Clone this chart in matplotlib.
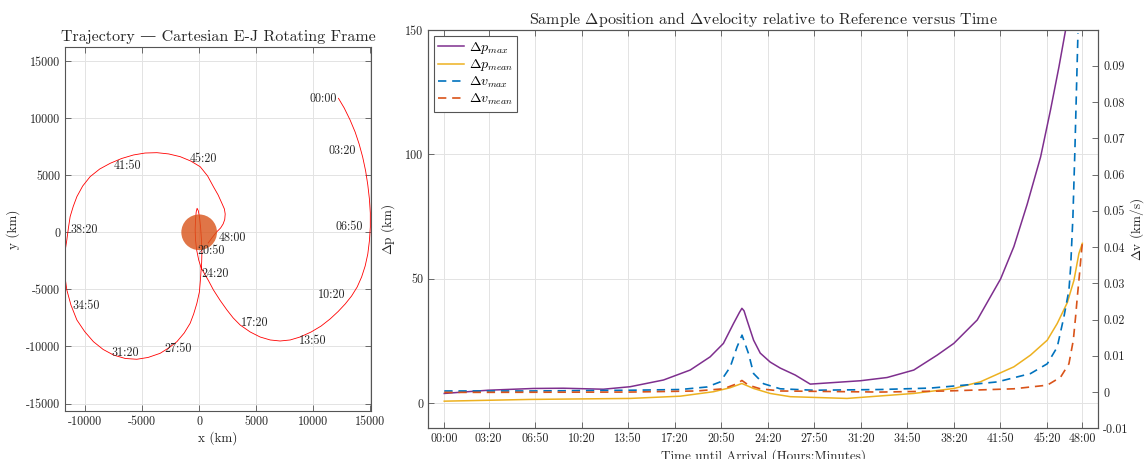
import numpy as np
import matplotlib
matplotlib.use("Agg")
import matplotlib.pyplot as plt
from matplotlib.patches import Circle

# ── data ──────────────────────────────────────────────────────────────────────
# trajectory in the Europa-Jupiter rotating frame (km)
traj_x = [12200, 12700, 13220, 13660, 14010, 14320, 14580, 14770, 14910, 14990,
          14990, 14910, 14770, 14540, 14230, 13840, 13350, 12790, 12170, 11470,
          10680, 9810, 8840, 7970, 7090, 6220, 5340, 4470, 3590, 2980,
          2430, 1840, 1250, 830, 480, 180, -40, -220, -320, -350,
          -320, -260, -180, -70, 40, 130, 200, 240, 220, 180,
          110, 20, -200, -480, -790, -1310, -1950, -2670, -3420, -4470,
          -5460, -6480, -7500, -8410, -9260, -10030, -10710, -11230, -11590, -11760,
          -11800, -11740, -11590, -11450, -11300, -11030, -10710, -10200, -9550, -8710,
          -7790, -6790, -5750, -4730, -3700, -2670, -1660, -740, 90, 740,
          1250, 1660, 1990, 2210, 2280, 2240, 2100, 1880, 1550, 1180,
          790]
traj_y = [11730, 10890, 9830, 8780, 7730, 6590, 5370, 4140, 2920, 1690,
          460, -760, -1900, -2950, -3910, -4790, -5580, -6280, -6940, -7590,
          -8210, -8730, -9170, -9430, -9520, -9430, -9170, -8730, -8120, -7500,
          -6800, -5970, -5050, -4260, -3650, -3130, -2430, -1550, -670, 200,
          1080, 1780, 2100, 1870, 1250, 380, -670, -1730, -2600, -3130,
          -4180, -5230, -6220, -7150, -7970, -8820, -9580, -10130, -10600, -10960,
          -11120, -11050, -10750, -10260, -9580, -8690, -7680, -6370, -5050, -3830,
          -2710, -1640, -670, 380, 1370, 2260, 3120, 4050, 4870, 5540,
          6040, 6460, 6770, 6940, 6970, 6860, 6620, 6240, 5740, 4930,
          3990, 3270, 2540, 2040, 1600, 1120, 730, 380, 50, -410,
          -940]

time_labels = ["00:00", "03:20", "06:50", "10:20", "13:50", "17:20", "20:50", "24:20",
               "27:50", "31:20", "34:50", "38:20", "41:50", "45:20", "48:00"]
label_x = [9633, 11323, 11971, 10447, 8757, 3678, -114, 175,
           -3065, -7706, -11095, -11296, -7505, -849, 1751]
label_y = [11673, 7120, 490, -5464, -9519, -7969, -1611, -3678,
           -10220, -10596, -6428, 201, 5832, 6419, -473]

EUROPA_R = 1560.8

# sampled deltas vs time (hours until arrival)
t_pmax = [0, 3.31, 6.70, 8.96, 11.97, 13.98, 16.49, 18.50, 20.0, 21.0,
          21.76, 22.2, 22.39, 22.55, 22.77, 23.27, 23.77, 24.52, 25.27, 26.4,
          27.53, 31.30, 33.31, 35.32, 37.08, 38.33, 40.09, 41.85, 42.85, 43.85,
          44.86, 45.61, 46.24, 46.74]
dp_max = [4.0, 5.3, 6.0, 6.1, 5.7, 6.7, 9.4, 13.4, 18.7, 24.1,
          32.1, 36.5, 38.2, 37.2, 33.5, 25.4, 20.2, 16.6, 14.2, 11.4,
          7.75, 9.1, 10.4, 13.4, 19.4, 24.1, 33.5, 50.0, 63.0, 80.0,
          99.0, 118.0, 135.2, 150.0]

t_pmean = [0, 6.45, 13.98, 17.75, 20.26, 21.51, 22.39, 23.27, 24.52, 26.03,
           30.3, 35.32, 38.33, 40.34, 42.85, 44.1, 45.36, 46.11, 46.87, 47.37,
           47.74, 48.0]
dp_mean = [0.9, 1.6, 2.0, 2.9, 4.7, 6.3, 8.0, 6.0, 4.0, 2.7,
           2.0, 4.0, 6.0, 8.7, 14.7, 19.4, 25.4, 32.1, 40.5, 49.5,
           60.2, 64.3]

t_vmax = [0, 6.45, 13.98, 17.75, 19.76, 20.76, 21.51, 22.02, 22.4, 22.89,
          23.27, 24.02, 25.27, 27.79, 32.8, 36.57, 39.08, 41.6, 44.1, 45.36,
          46.11, 46.61, 46.99, 47.12, 47.29, 47.44, 47.57, 47.67]
dv_max = [0.0003, 0.0003, 0.0005, 0.0007, 0.0014, 0.0028, 0.0069, 0.0124, 0.0157, 0.0106,
          0.0051, 0.0023, 0.0009, 0.0005, 0.0007, 0.0011, 0.0019, 0.0028, 0.0051, 0.0078,
          0.0124, 0.0207, 0.0281, 0.0345, 0.0483, 0.0668, 0.0852, 0.099]

t_vmean = [0, 13.98, 19.0, 21.0, 22.02, 22.39, 22.89, 23.77, 25.27, 32.8,
           37.83, 42.85, 45.36, 46.36, 46.99, 47.32, 47.49, 47.62, 47.79, 47.92, 48.0]
dv_mean = [-0.0001, 0.0, 0.0003, 0.0009, 0.0023, 0.0032, 0.0019, 0.0009, 0.0003, 0.0,
           0.0003, 0.0009, 0.0019, 0.0041, 0.0078, 0.0143, 0.0207, 0.0262, 0.0327, 0.0382, 0.041]

# ── style ─────────────────────────────────────────────────────────────────────
plt.rcParams["font.family"] = ["cmr10", "DejaVu Serif"]
plt.rcParams["mathtext.fontset"] = "cm"
plt.rcParams["axes.unicode_minus"] = False
plt.rcParams["axes.formatter.use_mathtext"] = True

AX_COL = "#555555"
TXT_COL = "#262626"
GRID_COL = "#e3e3e3"
FS = 8.7       # tick / annotation size
FS_LAB = 9.5   # axis labels
FS_TTL = 11.5  # titles

C_PURPLE = "#7E2F8E"
C_YELLOW = "#EDB120"
C_BLUE = "#0072BD"
C_ORANGE = "#D95319"


def hm_to_hours(s):
    h, m = s.split(":")
    return int(h) + int(m) / 60.0


def style_axes(ax, grid=True):
    for sp in ax.spines.values():
        sp.set_color(AX_COL)
        sp.set_linewidth(0.8)
    ax.tick_params(direction="in", length=4, width=0.6, color=AX_COL,
                   labelsize=FS, labelcolor=TXT_COL)
    if grid:
        ax.grid(True, color=GRID_COL, linewidth=0.7)
        ax.set_axisbelow(True)


fig = plt.figure(figsize=(11.45, 4.59), dpi=100)
fig.patch.set_facecolor("white")

# ── left: trajectory ──────────────────────────────────────────────────────────
ax1 = fig.add_axes([65 / 1145, 1 - 411 / 459, 306 / 1145, 364.3 / 459])
style_axes(ax1)
ax1.plot(traj_x, traj_y, color="#FF0000", linewidth=0.6, zorder=2)
ax1.add_patch(Circle((0, 0), EUROPA_R, facecolor=C_ORANGE, edgecolor="none",
                     alpha=0.8, zorder=3))
for lab, lx, ly in zip(time_labels, label_x, label_y):
    ax1.text(lx, ly, lab, fontsize=FS, color=TXT_COL, ha="left", va="center", zorder=4)

ax1.set_xlim(-11750, 15050)
ax1.set_ylim(-15650, 16250)
ax1.set_xticks(np.arange(-10000, 15001, 5000))
ax1.set_yticks(np.arange(-15000, 15001, 5000))
ax1.set_xticklabels([str(v) for v in range(-10000, 15001, 5000)])
ax1.set_yticklabels([str(v) for v in range(-15000, 15001, 5000)])
ax1.tick_params(top=True, right=True)
ax1.set_xlabel("x (km)", fontsize=FS_LAB, color=TXT_COL, labelpad=2)
ax1.set_ylabel("y (km)", fontsize=FS_LAB, color=TXT_COL, labelpad=4)
ax1.set_title("Trajectory — Cartesian E-J Rotating Frame", fontsize=FS_TTL,
              color=TXT_COL, pad=4)

# ── right: deltas vs time ─────────────────────────────────────────────────────
ax2 = fig.add_axes([428.3 / 1145, 1 - 428.3 / 459, 670 / 1145, 398.3 / 459])
style_axes(ax2)
ax3 = ax2.twinx()
style_axes(ax3, grid=False)

l1, = ax2.plot(t_pmax, dp_max, color=C_PURPLE, linewidth=1.1, label=r"$\Delta p_{max}$")
l2, = ax2.plot(t_pmean, dp_mean, color=C_YELLOW, linewidth=1.1, label=r"$\Delta p_{mean}$")
l3, = ax3.plot(t_vmax, dv_max, color=C_BLUE, linewidth=1.2, linestyle=(0, (5, 3.5)),
               label=r"$\Delta v_{max}$")
l4, = ax3.plot(t_vmean, dv_mean, color=C_ORANGE, linewidth=1.2, linestyle=(0, (5, 3.5)),
               label=r"$\Delta v_{mean}$")

tick_h = [hm_to_hours(s) for s in time_labels]
ax2.set_xlim(-1.2, 49.2)
ax2.set_xticks(tick_h)
ax2.set_xticklabels(time_labels)
ax2.set_ylim(-10, 150)
ax2.set_yticks([0, 50, 100, 150])
ax2.set_yticklabels(["0", "50", "100", "150"])
ax2.tick_params(top=True)

ax3.set_ylim(-0.01, 0.0999)
vt = [-0.01, 0, 0.01, 0.02, 0.03, 0.04, 0.05, 0.06, 0.07, 0.08, 0.09]
ax3.set_yticks(vt)
ax3.set_yticklabels(["-0.01", "0", "0.01", "0.02", "0.03", "0.04", "0.05",
                     "0.06", "0.07", "0.08", "0.09"])

ax2.set_xlabel("Time until Arrival (Hours:Minutes)", fontsize=FS_LAB, color=TXT_COL,
               labelpad=3)
ax2.set_ylabel(r"$\Delta$p (km)", fontsize=FS_LAB, color=TXT_COL, labelpad=6)
ax3.set_ylabel(r"$\Delta$v (km/s)", fontsize=FS_LAB, color=TXT_COL, labelpad=0)
ax2.set_title(r"Sample $\Delta$position and $\Delta$velocity relative to Reference versus Time",
              fontsize=FS_TTL, color=TXT_COL, pad=4)

leg = ax3.legend(handles=[l1, l2, l3, l4], loc="upper left", fontsize=10,
                 frameon=True, fancybox=False, framealpha=1, edgecolor=AX_COL,
                 handlelength=1.9, handletextpad=0.3, borderpad=0.3,
                 labelspacing=0.12, borderaxespad=0.4)
leg.get_frame().set_linewidth(0.8)

fig.savefig("out.png", dpi=100)
